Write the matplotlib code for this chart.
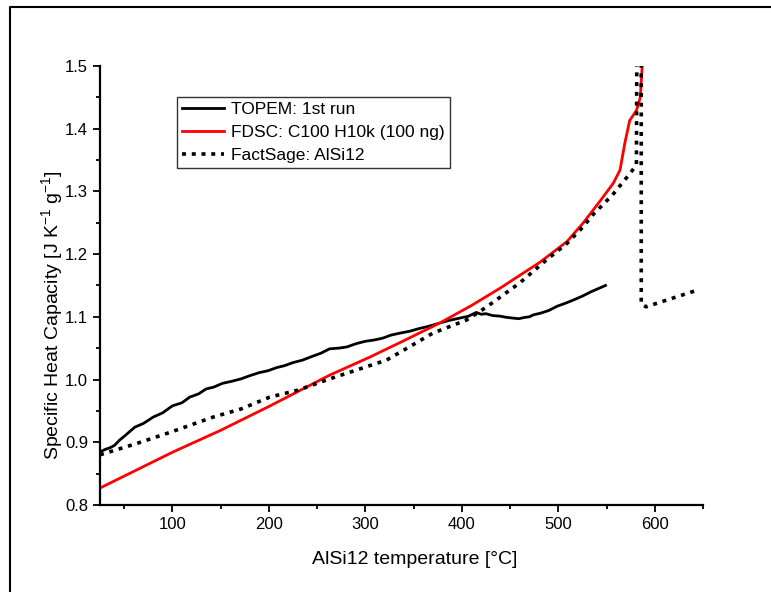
import matplotlib
matplotlib.use('Agg')
import matplotlib.pyplot as plt
from matplotlib.ticker import MultipleLocator
from matplotlib.lines import Line2D

plt.rcParams['font.family'] = ['Liberation Sans', 'DejaVu Sans']
plt.rcParams['mathtext.default'] = 'regular'

# TOPEM: 1st run
topem_t = [27, 31, 35, 40, 45, 52, 61, 70, 80, 90, 100, 110, 118, 127, 135, 143,
           152, 161, 171, 180, 190, 199, 208, 216, 225, 235, 245, 254, 263, 272,
           281, 290, 300, 309, 318, 327, 336, 346, 355, 366, 377, 386, 395, 401,
           407, 411, 415, 420, 425, 432, 440, 447, 453, 459, 465, 470, 474, 482,
           490, 499, 508, 516, 525, 534, 543, 549]
topem_cp = [0.886, 0.889, 0.891, 0.895, 0.903, 0.912, 0.924, 0.930, 0.940, 0.947,
            0.958, 0.963, 0.972, 0.977, 0.985, 0.988, 0.994, 0.997, 1.001, 1.006,
            1.011, 1.014, 1.019, 1.022, 1.027, 1.031, 1.037, 1.042, 1.049, 1.050,
            1.052, 1.057, 1.061, 1.063, 1.066, 1.071, 1.074, 1.077, 1.081, 1.085,
            1.090, 1.094, 1.097, 1.099, 1.101, 1.104, 1.107, 1.104, 1.105, 1.102,
            1.101, 1.099, 1.098, 1.097, 1.099, 1.100, 1.103, 1.106, 1.110, 1.117,
            1.122, 1.127, 1.133, 1.140, 1.146, 1.150]

# FDSC: C100 H10k (100 ng)
fdsc_t = [25, 100, 150, 200, 263, 305, 340, 377, 410, 440, 481, 509, 526, 543,
          557, 564, 569, 574, 581, 585, 587]
fdsc_cp = [0.827, 0.884, 0.919, 0.957, 1.007, 1.036, 1.062, 1.090, 1.118, 1.146,
           1.187, 1.220, 1.250, 1.284, 1.313, 1.334, 1.377, 1.413, 1.429, 1.450,
           1.500]

# FactSage: AlSi12
fs_t = [25, 61, 98, 142, 171, 201, 230, 263, 322, 370, 405, 426, 460, 488, 509,
        526, 536, 556, 573, 581, 581.5, 586, 586, 591, 645]
fs_cp = [0.880, 0.897, 0.916, 0.940, 0.953, 0.972, 0.983, 1.001, 1.031, 1.074,
         1.095, 1.116, 1.154, 1.191, 1.217, 1.244, 1.263, 1.294, 1.326, 1.342,
         1.56, 1.56, 1.120, 1.116, 1.143]

fig = plt.figure(figsize=(7.71, 5.92), dpi=100)
ax = fig.add_axes([0.1297, 0.147, 0.7821, 0.7416])

ax.plot(topem_t, topem_cp, color='black', lw=2.0, label='TOPEM: 1st run')
ax.plot(fdsc_t, fdsc_cp, color='red', lw=2.0, label='FDSC: C100 H10k (100 ng)')
ax.plot(fs_t, fs_cp, color='black', lw=2.6, ls=(0, (1.1, 1.6)),
        label='FactSage: AlSi12')

ax.set_xlim(25, 650)
ax.set_ylim(0.8, 1.5)
ax.xaxis.set_major_locator(MultipleLocator(100))
ax.xaxis.set_minor_locator(MultipleLocator(50))
ax.yaxis.set_major_locator(MultipleLocator(0.1))
ax.yaxis.set_minor_locator(MultipleLocator(0.05))
ax.set_xticks([100, 200, 300, 400, 500, 600])
ax.tick_params(which='major', direction='out', length=5, width=1.3, labelsize=12)
ax.tick_params(which='minor', direction='out', length=3, width=1.3)
for s in ['top', 'right']:
    ax.spines[s].set_visible(False)
for s in ['left', 'bottom']:
    ax.spines[s].set_linewidth(1.6)

ax.set_xlabel('AlSi12 temperature [°C]', fontsize=14)
ax.set_ylabel('Specific Heat Capacity [J K$^{-1}$ g$^{-1}$]', fontsize=14)
ax.xaxis.set_label_coords(0.522, -0.105)
ax.yaxis.set_label_coords(-0.058, 0.433)

leg = ax.legend(loc='upper left', bbox_to_anchor=(0.128, 0.93), fontsize=12.5,
                frameon=True, fancybox=False, handlelength=2.4,
                borderpad=0.3, labelspacing=0.45, handletextpad=0.4,
                borderaxespad=0)
leg.get_frame().set_edgecolor('black')
leg.get_frame().set_linewidth(1.0)

# outer frame of the figure
fig.add_artist(Line2D([0.013, 0.013, 1.0], [0.0, 0.988, 0.988],
                      transform=fig.transFigure, color='black', lw=1.5))

fig.savefig('out.png', dpi=100)
